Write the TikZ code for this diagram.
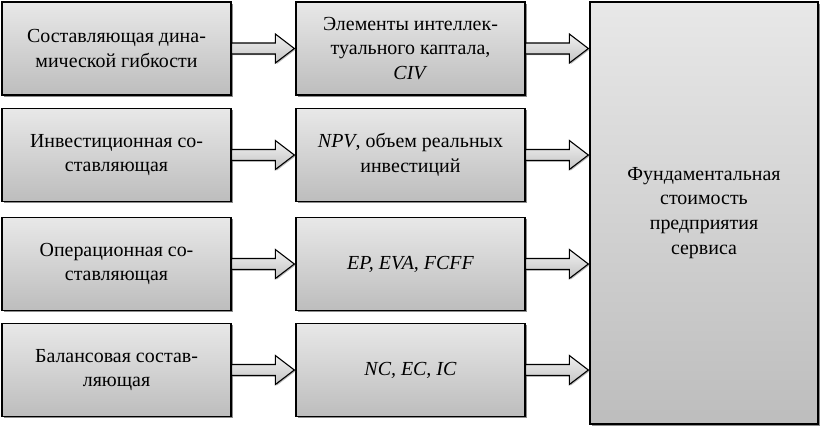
\documentclass[tikz,border=0pt]{standalone}
\usepackage{fontspec}
\setmainfont{Liberation Serif}
\usetikzlibrary{calc,shadows}
\definecolor{boxtop}{HTML}{E8E8E8}
\definecolor{boxbot}{HTML}{BDBDBD}
\definecolor{arrtop}{HTML}{F0F0F0}
\definecolor{arrbot}{HTML}{C4C4C4}
\definecolor{shad}{HTML}{707070}
\newcommand\blkarrow[2]{%
  \path[arr] let \p1=(#1.east), \p2=(#1.east -| #2.west) in
    (\x1,\y1+5.5bp) -- (\x2-20bp,\y1+5.5bp) -- (\x2-20bp,\y1+14.5bp) --
    (\x2-1bp,\y1) -- (\x2-20bp,\y1-14.5bp) -- (\x2-20bp,\y1-5.5bp) --
    (\x1,\y1-5.5bp) -- cycle;}
\begin{document}
\begin{tikzpicture}[x=1bp,y=-1bp,
  box/.style={draw=black, line width=1.3bp, top color=boxtop, bottom color=boxbot,
    minimum width=229bp, minimum height=93bp, align=center, inner sep=0pt,
    font=\fontsize{20}{25}\selectfont,
    drop shadow={shadow xshift=1.6bp, shadow yshift=-1.6bp, fill=shad, opacity=0.8}},
  arr/.style={draw=black, line width=1.1bp, line join=miter, top color=arrtop, bottom color=arrbot,
    drop shadow={shadow xshift=1.2bp, shadow yshift=-1.2bp, fill=shad, opacity=0.5}}]
\useasboundingbox (0,0) rectangle (820,426);
\node[box] (l1) at (116.5,48.5) {Составляющая дина-\\мической гибкости};
\node[box] (l2) at (116.5,155) {Инвестиционная со-\\ставляющая};
\node[box] (l3) at (116.5,264) {Операционная со-\\ставляющая};
\node[box] (l4) at (116.5,370) {Балансовая состав-\\ляющая};
\node[box] (m1) at (410.5,48.5) {Элементы интеллек-\\туального каптала,\\\textit{CIV}};
\node[box] (m2) at (410.5,155) {\textit{NPV}, объем реальных\\инвестиций};
\node[box] (m3) at (410.5,264) {\textit{EP, EVA, FCFF}};
\node[box] (m4) at (410.5,370) {\textit{NC, EC, IC}};
\node[box, minimum width=228bp, minimum height=422bp] (r) at (704,213)
  {Фундаментальная\\стоимость\\предприятия\\сервиса};
\blkarrow{l1}{m1}
\blkarrow{l2}{m2}
\blkarrow{l3}{m3}
\blkarrow{l4}{m4}
\blkarrow{m1}{r}
\blkarrow{m2}{r}
\blkarrow{m3}{r}
\blkarrow{m4}{r}
\end{tikzpicture}
\end{document}
